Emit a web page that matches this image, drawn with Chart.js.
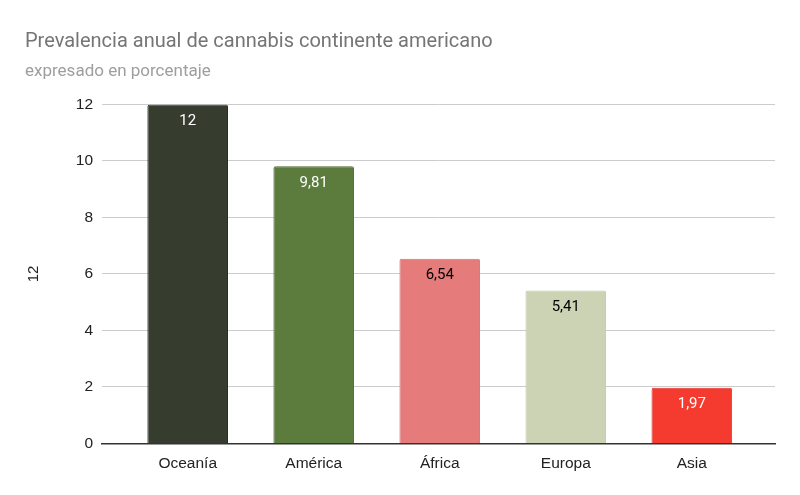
<!DOCTYPE html>
<html>
<head>
<meta charset="utf-8">
<script src="https://cdn.jsdelivr.net/npm/chart.js@4/dist/chart.umd.min.js"></script>
<style>
  html, body { margin: 0; padding: 0; background: #fff; }
  #wrap { width: 800px; height: 495px; }
</style>
</head>
<body>
<div id="wrap"><canvas id="grafico"></canvas></div>
<script>
// Datos del gráfico
const continentes = ['Oceanía', 'América', 'África', 'Europa', 'Asia'];
const prevalencia = [12, 9.81, 6.54, 5.41, 1.97];
const etiquetas = ['12', '9,81', '6,54', '5,41', '1,97'];
const ticksY = [0, 2, 4, 6, 8, 10, 12];
const colores = ['#373d2e', '#5b7c3c', '#e57b7b', '#ccd3b5', '#f53b30'];
const bordes = ['#2a2f22', '#4d6a32', '#d86d6d', '#bfc7a6', '#e0302a'];
const coloresTexto = ['#ffffff', '#ffffff', '#000000', '#000000', '#ffffff'];

// Puntos para el eje x lineal (una posición por continente)
const puntos = prevalencia.map((v, i) => ({ x: i, y: v }));

// Plugin sencillo para escribir el valor dentro de cada barra
const etiquetasBarras = {
    id: 'etiquetasBarras',
    afterDatasetsDraw(chart) {
        const ctx = chart.ctx;
        const meta = chart.getDatasetMeta(0);
        ctx.save();
        ctx.font = '15px Roboto';
        ctx.textAlign = 'center';
        ctx.textBaseline = 'middle';
        meta.data.forEach((bar, i) => {
            ctx.fillStyle = coloresTexto[i];
            ctx.fillText(etiquetas[i], bar.x, bar.y + 17);
        });
        ctx.restore();
    }
};

const ctx = document.getElementById('grafico').getContext('2d');
new Chart(ctx, {
    type: 'bar',
    data: {
        datasets: [{
            data: puntos,
            backgroundColor: colores,
            borderColor: bordes,
            borderWidth: 1,
            borderRadius: 2,
            borderSkipped: 'bottom',
            barPercentage: 0.64,
            categoryPercentage: 1
        }]
    },
    options: {
        responsive: true,
        maintainAspectRatio: false,
        animation: false,
        layout: { padding: { left: 25, right: 25, top: 30, bottom: 19 } },
        plugins: {
            legend: { display: false },
            tooltip: { enabled: false },
            title: {
                display: true,
                text: 'Prevalencia anual de cannabis continente americano',
                align: 'start',
                color: '#757575',
                font: { family: 'Roboto', size: 20, weight: 'normal' },
                padding: { top: 0, bottom: 8 }
            },
            subtitle: {
                display: true,
                text: 'expresado en porcentaje',
                align: 'start',
                color: '#9e9e9e',
                font: { family: 'Roboto', size: 17, weight: 'normal' },
                padding: { top: 0, bottom: 22 }
            }
        },
        scales: {
            x: {
                type: 'linear',
                offset: false,
                min: -0.68,
                max: 4.66,
                grid: { display: false, offset: false },
                border: { display: true, color: '#333333', width: 1.5 },
                afterBuildTicks(scale) {
                    scale.ticks = continentes.map((c, i) => ({ value: i }));
                },
                ticks: {
                    autoSkip: false,
                    maxRotation: 0,
                    color: '#222222',
                    font: { family: 'Liberation Sans', size: 15.5 },
                    padding: 3,
                    callback: (value) => continentes[value]
                }
            },
            y: {
                min: 0,
                max: 12,
                afterBuildTicks(scale) {
                    scale.ticks = ticksY.map(v => ({ value: v }));
                },
                ticks: {
                    color: '#222222',
                    font: { family: 'Liberation Sans', size: 15.5 },
                    padding: 9
                },
                grid: { color: '#cccccc', drawTicks: false },
                border: { display: false },
                title: {
                    display: true,
                    text: '12',
                    color: '#222222',
                    font: { family: 'Liberation Sans', size: 15 },
                    padding: 0
                },
                afterFit(scale) { scale.width = 77; }
            }
        }
    },
    plugins: [etiquetasBarras]
});
</script>
</body>
</html>
